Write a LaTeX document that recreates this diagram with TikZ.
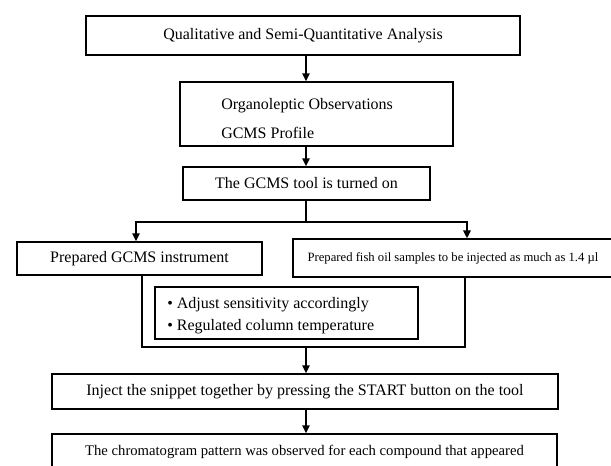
\documentclass[tikz,border=0pt]{standalone}
\usepackage{fontspec}
\setmainfont{Liberation Serif}
\usetikzlibrary{arrows.meta}
\begin{document}
\begin{tikzpicture}[x=0.75pt,y=-0.75pt,
  box/.style={draw=black, line width=1.1pt, inner sep=0pt, font=\fontsize{12}{14}\selectfont},
  txt/.style={inner sep=0pt, anchor=west, align=left},
  arr/.style={line width=1.5pt, -{Triangle[length=6pt,width=5.5pt]}},
  ln/.style={line width=1.5pt}]
\useasboundingbox (0,0) rectangle (611,465);

\node[box, minimum width=325.5pt, minimum height=29.25pt] (b1) at (303,35.5)
  {Qualitative and Semi-Quantitative Analysis};
\node[box, minimum width=204.75pt, minimum height=48pt] (b2) at (316.5,114) {};
\node[txt, font=\fontsize{12}{21.75}\selectfont] (t2) at (221,118.5)
  {Organoleptic Observations\\GCMS Profile};
\node[box, minimum width=185.25pt, minimum height=24.75pt] (b3) at (306.5,183.5)
  {The GCMS tool is turned on};
\node[box, minimum width=183.75pt, minimum height=24.75pt] (b4) at (139.5,258.5)
  {Prepared GCMS instrument};
\node[box, line width=0.9pt, minimum width=240pt, minimum height=28.5pt, font=\fontsize{9.5}{11}\selectfont] (b5) at (453,258)
  {Prepared fish oil samples to be injected as much as 1.4 µl};
\node[box, minimum width=197.25pt, minimum height=39pt] (b6) at (286.5,313) {};
\node[txt, font=\fontsize{12}{16.5}\selectfont] (t6) at (167,316)
  {• Adjust sensitivity accordingly\\• Regulated column temperature};
\node[box, minimum width=379.5pt, minimum height=26.25pt] (b7) at (305,391.5)
  {Inject the snippet together by pressing the START button on the tool};
\node[box, minimum width=378.75pt, minimum height=27pt, font=\fontsize{11}{13}\selectfont] (b8) at (304.5,452)
  {The chromatogram pattern was observed for each compound that appeared};

\coordinate (ax) at (306,0);
\coordinate (bl) at (136,222);
\coordinate (br) at (467,222);
\coordinate (el) at (142,347);
\coordinate (er) at (465,347);
\coordinate (em) at (306,347);

\draw[arr] (b1.south -| ax) -- (b2.north -| ax);
\draw[arr] (b2.south -| ax) -- (b3.north -| ax);
\draw[ln] (b3.south -| ax) -- (ax |- bl);
\draw[arr] (ax |- bl) -- (bl) -- (bl |- b4.north);
\draw[arr] (ax |- bl) -- (br) -- (br |- b5.north);
\draw[ln] (el |- b4.south) -- (el) -- (er) -- (er |- b5.south);
\draw[arr] (em) -- (b7.north -| em);
\draw[arr] (b7.south -| em) -- (b8.north -| em);
\end{tikzpicture}
\end{document}
